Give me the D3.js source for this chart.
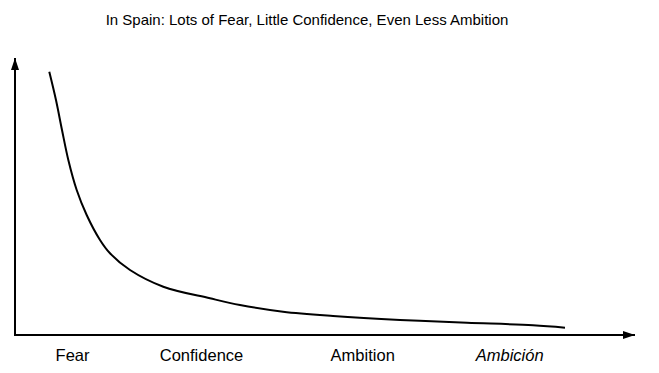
<!DOCTYPE html>
<html>
<head>
<meta charset="utf-8">
<script src="https://cdn.jsdelivr.net/npm/d3@7"></script>
<style>
  body { margin: 0; background: #fff; }
  svg { display: block; font-family: "Liberation Sans", Arial, sans-serif; }
</style>
</head>
<body>
<svg width="659" height="373"></svg>
<script>
// curve (abstract units, 0..100)
var curveX = [5.53, 6.61, 7.58, 8.60, 9.95, 11.56, 13.71, 15.32, 18.55, 23.92, 31.45, 36.29, 43.23, 51.29, 62.10, 72.90, 83.55, 88.71];
var curveY = [95.05, 84.84, 74.01, 63.18, 52.35, 43.32, 34.30, 29.49, 23.47, 17.44, 13.25, 10.83, 8.41, 6.86, 5.42, 4.44, 3.50, 2.64];
var tickValues = [9.2, 30, 56, 79.7];
var tickLabels = ["Fear", "Confidence", "Ambition", "Ambición"];
var title = "In Spain: Lots of Fear, Little Confidence, Even Less Ambition";

var svg = d3.select("svg"),
    width = +svg.attr("width"),
    height = +svg.attr("height");

var x = d3.scaleLinear().domain([0, 100]).range([15, 635]);
var y = d3.scaleLinear().domain([0, 100]).range([335, 58]);

var defs = svg.append("defs");
defs.append("marker")
  .attr("id", "arrow")
  .attr("viewBox", "0 0 12 8")
  .attr("refX", 12).attr("refY", 4)
  .attr("markerWidth", 12).attr("markerHeight", 8)
  .attr("markerUnits", "userSpaceOnUse")
  .attr("orient", "auto")
  .append("path")
  .attr("d", "M0,0L12,4L0,8Z")
  .attr("fill", "#000");

svg.append("text")
  .attr("x", 307)
  .attr("y", 25)
  .attr("text-anchor", "middle")
  .attr("font-size", 15)
  .attr("fill", "#000")
  .text(title);

// axes
svg.append("line")
  .attr("x1", x(0)).attr("y1", y(0))
  .attr("x2", x(0)).attr("y2", y(100))
  .attr("stroke", "#000").attr("stroke-width", 2)
  .attr("marker-end", "url(#arrow)");

svg.append("line")
  .attr("x1", x(0) - 1).attr("y1", y(0))
  .attr("x2", x(100)).attr("y2", y(0))
  .attr("stroke", "#000").attr("stroke-width", 2)
  .attr("marker-end", "url(#arrow)");

var xAxis = d3.axisBottom(x)
  .tickValues(tickValues)
  .tickSize(0)
  .tickPadding(14)
  .tickFormat(function(d, i) { return tickLabels[i]; });

var gx = svg.append("g")
  .attr("transform", "translate(0," + y(0) + ")")
  .call(xAxis);
gx.select(".domain").remove();
gx.selectAll("text")
  .attr("font-size", 16.5)
  .attr("font-family", "Liberation Sans, Arial, sans-serif")
  .attr("fill", "#000")
  .attr("font-style", function(d, i) { return i == 3 ? "italic" : null; });

var pts = curveX.map(function(v, i) { return [v, curveY[i]]; });
var line = d3.line()
  .x(function(d) { return x(d[0]); })
  .y(function(d) { return y(d[1]); })
  .curve(d3.curveCatmullRom.alpha(0.5));

svg.append("path")
  .datum(pts)
  .attr("d", line)
  .attr("fill", "none")
  .attr("stroke", "#000")
  .attr("stroke-width", 2);
</script>
</body>
</html>
